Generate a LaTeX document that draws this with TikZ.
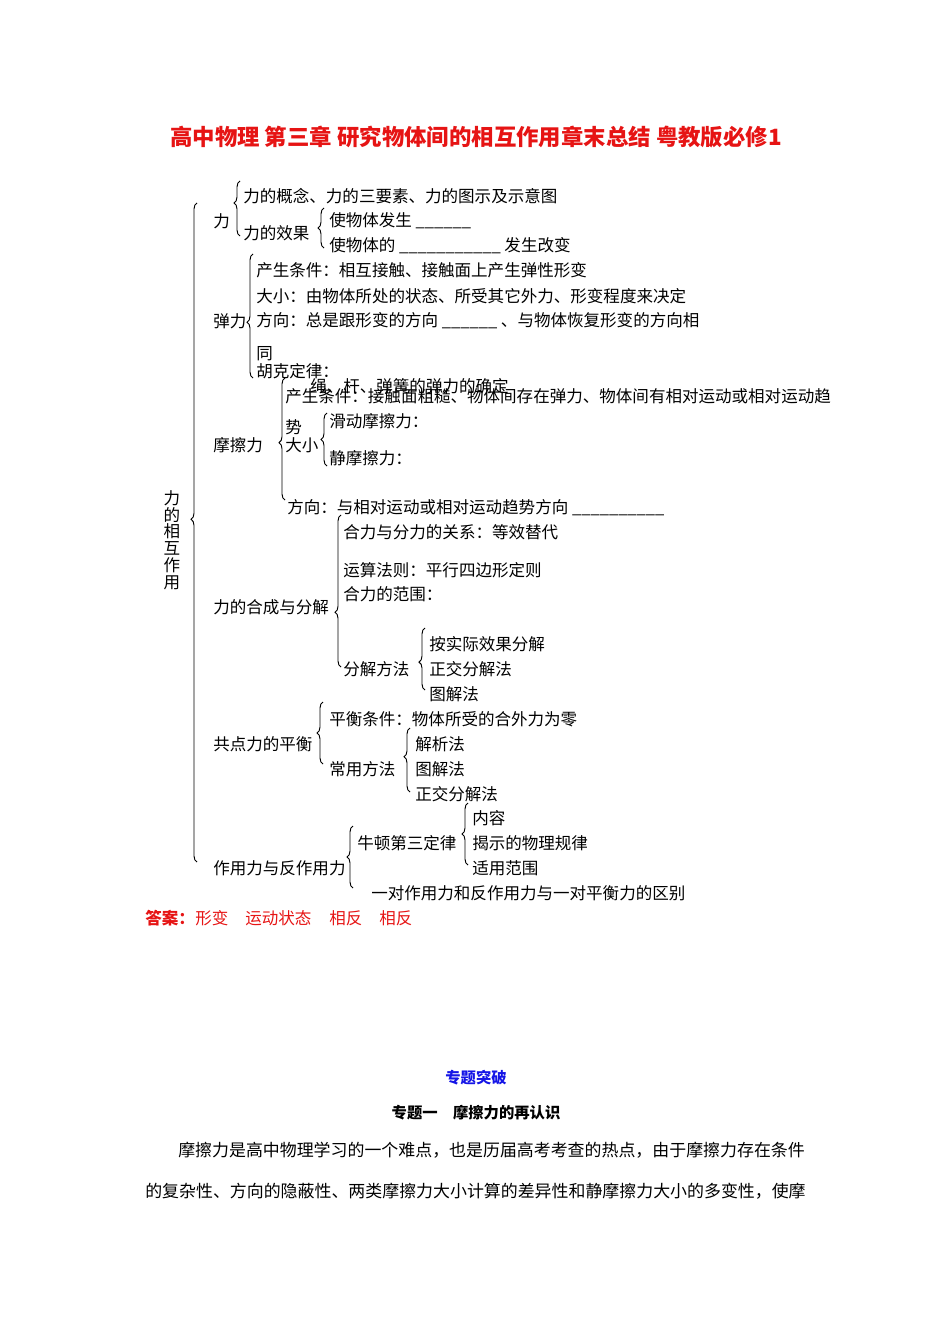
\documentclass[tikz,border=0pt]{standalone}
\usepackage{fontspec}
\setmainfont{Noto Sans CJK SC}
\usetikzlibrary{decorations.pathreplacing}
\definecolor{tred}{RGB}{230,20,20}
\definecolor{tblue}{RGB}{20,20,230}
\tikzset{
  t/.style={anchor=west,inner sep=0pt,font=\fontsize{12.4pt}{14pt}\selectfont},
  br/.style={decorate,decoration={brace,amplitude=4.5pt,aspect=#1},line width=0.7pt},
  br/.default=0.5
}
\newcommand{\cbrace}[4][0.5]{\draw[br=#1] (#2,#4) -- (#2,#3);}
\begin{document}
\begin{tikzpicture}[x=0.75pt,y=-0.75pt]
\useasboundingbox (0,0) rectangle (950,1344);
\node[font=\fontsize{16.8pt}{18pt}\selectfont\bfseries,text=tred,inner sep=0] (title) at (476,137) {高中物理\ 第三章\ 研究物体间的相互作用章末总结\ 粤教版必修1};
% big brace
\cbrace[0.52]{197}{203}{862}
\node[t,anchor=center,align=center,font=\fontsize{12.4pt}{12.6pt}\selectfont] (root) at (172,540) {力\\的\\相\\互\\作\\用};
% li
\node[t] (li) at (213,221) {力};
\cbrace[0.6]{240}{181}{236}
\node[t] (a1) at (243,196) {力的概念、力的三要素、力的图示及示意图};
\node[t] (a2) at (243,233) {力的效果};
\cbrace{324}{208}{248}
\node[t] (a21) at (329,221) {使物体发生 \_\_\_\_\_\_};
\node[t] (a22) at (329,246) {使物体的 \_\_\_\_\_\_\_\_\_\_\_ 发生改变};
% tanli
\node[t] (tl) at (213,321) {弹力};
\cbrace[0.45]{253}{254}{378}
\node[t] (b1) at (256,270) {产生条件：相互接触、接触面上产生弹性形变};
\node[t] (b2) at (256,296) {大小：由物体所处的状态、所受其它外力、形变程度来决定};
\node[t] (b3) at (256,321) {方向：总是跟形变的方向 \_\_\_\_\_\_ 、与物体恢复形变的方向相};
\node[t] (b4) at (256,354) {同};
\node[t] (b5) at (256,371) {胡克定律：};
\node[t] (b6) at (310,386) {绳、杆、弹簧的弹力的确定};
% mocali
\node[t] (ml) at (213,445) {摩擦力};
\cbrace[0.47]{285}{378}{500}
\node[t] (c1) at (285,396) {产生条件：接触面粗糙、物体间存在弹力、物体间有相对运动或相对运动趋};
\node[t] (c2) at (285,427) {势};
\node[t] (c3) at (285,445) {大小};
\cbrace{327}{413}{466}
\node[t] (c31) at (329,421) {滑动摩擦力：};
\node[t] (c32) at (329,458) {静摩擦力：};
\node[t] (c4) at (287,508) {方向：与相对运动或相对运动趋势方向 \_\_\_\_\_\_\_\_\_\_};
% hecheng
\node[t] (hl) at (213,607) {力的合成与分解};
\cbrace[0.36]{341}{515}{667}
\node[t] (d1) at (343,532) {合力与分力的关系：等效替代};
\node[t] (d2) at (343,570) {运算法则：平行四边形定则};
\node[t] (d3) at (343,594) {合力的范围：};
\node[t] (d4) at (343,669) {分解方法};
\cbrace[0.45]{425}{628}{690}
\node[t] (d41) at (429,644) {按实际效果分解};
\node[t] (d42) at (429,669) {正交分解法};
\node[t] (d43) at (429,694) {图解法};
% pingheng
\node[t] (pl) at (213,744) {共点力的平衡};
\cbrace{323}{702}{764}
\node[t] (e1) at (329,719) {平衡条件：物体所受的合外力为零};
\node[t] (e2) at (329,769) {常用方法};
\cbrace[0.55]{410}{728}{792}
\node[t] (e21) at (415,744) {解析法};
\node[t] (e22) at (415,769) {图解法};
\node[t] (e23) at (415,794) {正交分解法};
% zuoyongli
\node[t] (zl) at (213,868) {作用力与反作用力};
\cbrace{353}{826}{888}
\node[t] (f1) at (357,843) {牛顿第三定律};
\node[t] (f2) at (371,893) {一对作用力和反作用力与一对平衡力的区别};
\cbrace{468}{803}{865}
\node[t] (f11) at (472,818) {内容};
\node[t] (f12) at (472,843) {揭示的物理规律};
\node[t] (f13) at (472,868) {适用范围};
% answers
\node[t,text=tred,font=\fontsize{12.4pt}{14pt}\selectfont\bfseries] (ans) at (145,918) {答案：};
\node[t,text=tred] (an1) at (195,918) {形变};
\node[t,text=tred] (an2) at (245,918) {运动状态};
\node[t,text=tred] (an3) at (329,918) {相反};
\node[t,text=tred] (an4) at (379,918) {相反};
% bottom
\node[inner sep=0,text=tblue,font=\fontsize{11.5pt}{13pt}\selectfont\bfseries] (zt) at (476,1078) {专题突破};
\node[inner sep=0,font=\fontsize{11.5pt}{13pt}\selectfont\bfseries] (zt1) at (476,1113) {专题一\quad 摩擦力的再认识};
\node[t,font=\fontsize{12.7pt}{14pt}\selectfont] (p1) at (178,1150) {摩擦力是高中物理学习的一个难点，也是历届高考考查的热点，由于摩擦力存在条件};
\node[t,font=\fontsize{12.7pt}{14pt}\selectfont] (p2) at (145,1191) {的复杂性、方向的隐蔽性、两类摩擦力大小计算的差异性和静摩擦力大小的多变性，使摩};
\end{tikzpicture}
\end{document}
